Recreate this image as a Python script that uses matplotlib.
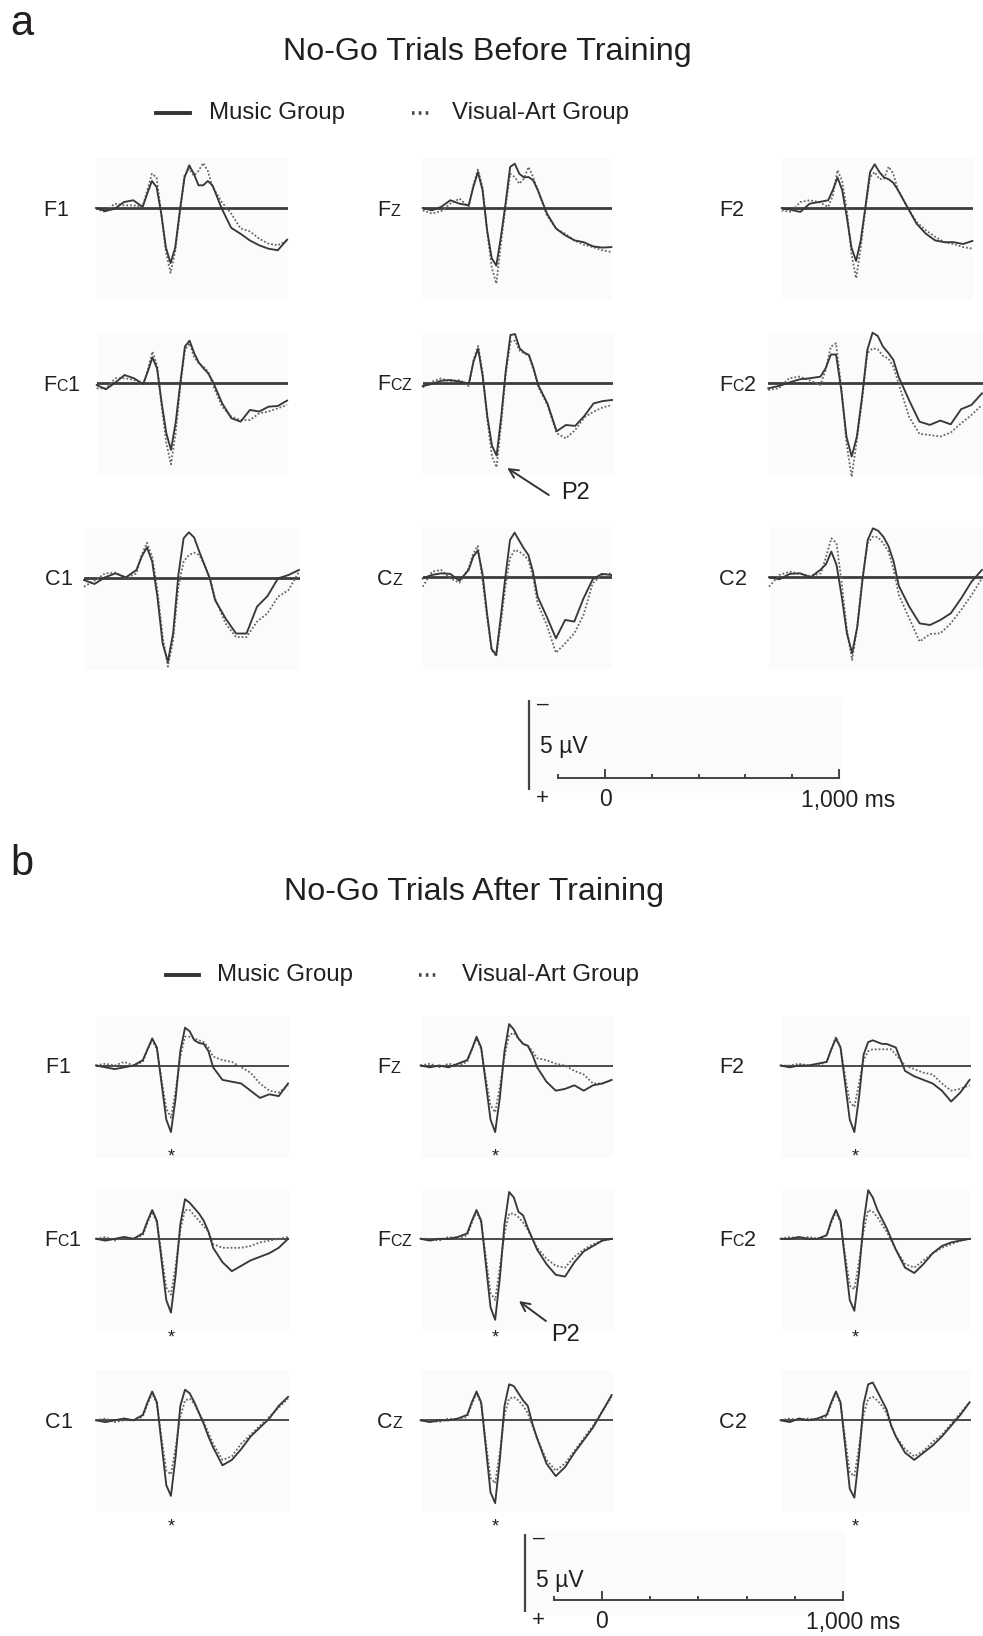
import matplotlib
matplotlib.use('Agg')
import matplotlib.pyplot as plt
from matplotlib.lines import Line2D

plt.rcParams['font.family'] = ['Liberation Sans', 'DejaVu Sans']

W, H = 983, 1636
fig = plt.figure(figsize=(W / 100, H / 100), dpi=100)
fig.patch.set_facecolor('white')

# ---------------- data ----------------
times = [-100, -60, -20, 20, 60, 100, 120, 140, 160, 180, 200, 220, 240, 260, 280,
         300, 320, 340, 360, 380, 400, 440, 480, 520, 560, 600, 640, 680, 720]
electrodes = ['F1', 'Fz', 'F2', 'Fc1', 'Fcz', 'Fc2', 'C1', 'Cz', 'C2']
scale_ticks_ms = [-200, 0, 200, 400, 600, 800, 1000]
group_names = ['Music Group', 'Visual-Art Group']

# Before training (µV, positive plotted downward)
pre_F1_music = [0.0, 0.17, 0.04, -0.33, -0.43, -0.06, -0.8, -1.5, -1.17, 0.31, 2.2, 3.06, 2.2, 0.13, -1.7, -2.37, -1.9, -1.26, -1.26, -1.5, -1.26, 0.04, 1.1, 1.43, 1.8, 2.07, 2.26, 2.35, 1.76]
pre_F1_visual = [0.04, 0.22, -0.24, -0.15, -0.15, -0.06, -0.98, -1.9, -1.7, 0.31, 2.44, 3.6, 2.4, 0.31, -1.8, -2.17, -1.8, -2.06, -2.5, -2.06, -1.17, -0.33, 0.31, 1.13, 1.3, 1.7, 1.98, 2.07, 1.8]
pre_Fz_music = [0.0, 0.13, -0.06, -0.43, -0.24, -0.15, -1.17, -2.0, -1.0, 1.24, 2.8, 3.2, 1.6, -0.24, -2.28, -2.46, -1.9, -1.7, -1.72, -1.54, -1.0, 0.31, 1.15, 1.52, 1.8, 1.9, 2.13, 2.2, 2.17]
pre_Fz_visual = [0.13, 0.31, 0.17, -0.24, -0.52, -0.06, -1.26, -2.13, -1.17, 1.33, 3.3, 4.2, 1.98, -0.06, -1.9, -1.72, -1.35, -1.63, -2.28, -1.72, -1.0, 0.41, 1.15, 1.43, 1.8, 2.04, 2.17, 2.35, 2.44]
pre_F2_music = [0.0, 0.1, 0.22, -0.24, -0.33, -0.43, -1.0, -1.7, -1.0, 0.5, 2.2, 2.94, 1.8, -0.06, -2.0, -2.43, -2.0, -1.7, -1.6, -1.4, -1.0, -0.06, 0.87, 1.43, 1.8, 1.9, 1.9, 2.0, 1.83]
pre_F2_visual = [0.13, 0.22, -0.33, -0.43, -0.33, -0.06, -0.7, -2.1, -1.5, 0.1, 2.54, 3.9, 2.2, 0.04, -1.72, -2.0, -1.6, -1.63, -2.3, -1.9, -1.0, -0.06, 0.78, 1.24, 1.6, 1.9, 2.0, 2.17, 2.26]
pre_Fc1_music = [0.1, 0.33, -0.04, -0.46, -0.28, 0.04, -0.65, -1.44, -0.83, 1.1, 2.78, 3.7, 2.2, 0.0, -2.04, -2.37, -1.67, -1.15, -0.83, -0.56, -0.1, 1.1, 1.94, 2.13, 1.48, 1.57, 1.3, 1.26, 0.96]
pre_Fc1_visual = [0.28, 0.28, -0.28, -0.28, -0.19, 0.09, -0.74, -1.76, -1.0, 1.3, 3.33, 4.5, 2.78, 0.19, -1.85, -2.22, -1.44, -1.1, -0.93, -0.65, 0.09, 1.3, 1.85, 2.04, 2.04, 1.67, 1.57, 1.39, 1.2]
pre_Fcz_music = [0.19, 0.07, -0.11, -0.15, -0.06, 0.04, -1.17, -1.9, -0.33, 1.89, 3.5, 4.05, 1.89, -0.7, -2.65, -2.7, -1.9, -1.67, -1.54, -0.8, 0.13, 1.15, 2.7, 2.35, 2.4, 1.85, 1.15, 1.02, 0.96]
pre_Fcz_visual = [0.26, -0.06, -0.24, -0.06, -0.15, 0.19, -1.26, -2.04, -0.52, 2.07, 4.1, 4.7, 2.26, -0.52, -2.28, -2.33, -1.78, -1.63, -1.48, -0.7, 0.22, 1.24, 2.81, 3.09, 2.63, 1.93, 1.61, 1.37, 1.24]
pre_Fc2_music = [0.28, 0.15, -0.04, -0.22, -0.28, -0.37, -0.83, -1.6, -1.6, 0.37, 2.96, 4.07, 2.96, 0.74, -1.85, -2.81, -2.63, -2.04, -1.7, -1.3, -0.37, 0.93, 2.13, 2.31, 2.07, 2.28, 1.44, 1.2, 0.56]
pre_Fc2_visual = [0.37, 0.28, -0.28, -0.37, -0.15, 0.09, -0.74, -2.04, -2.22, 0.19, 3.33, 5.2, 3.15, 0.93, -1.67, -1.94, -1.89, -1.52, -1.39, -0.93, 0.0, 1.85, 2.81, 2.87, 2.96, 2.74, 2.22, 1.76, 1.2]
pre_C1_music = [0.13, 0.35, -0.02, -0.24, -0.02, -0.43, -1.17, -1.69, -0.9, 1.06, 3.65, 4.67, 3.09, -0.15, -2.19, -2.52, -2.24, -1.44, -0.7, 0.04, 1.24, 2.26, 3.1, 3.1, 1.61, 1.02, 0.04, -0.15, -0.43]
pre_C1_visual = [0.5, 0.17, -0.24, -0.28, 0.04, -0.24, -1.26, -1.94, -1.17, 0.69, 3.28, 4.94, 3.46, 0.5, -0.89, -1.26, -1.39, -1.26, -0.7, 0.04, 1.15, 2.54, 3.3, 3.3, 2.44, 1.98, 1.06, 0.69, -0.33]
pre_Cz_music = [0.06, -0.13, -0.22, -0.19, 0.19, -0.41, -1.15, -1.5, -0.22, 2.0, 4.0, 4.3, 2.19, -0.04, -2.07, -2.48, -2.04, -1.61, -1.24, -0.31, 1.07, 2.19, 3.39, 2.37, 2.46, 1.17, 0.11, -0.19, -0.13]
pre_Cz_visual = [0.52, -0.31, -0.41, 0.06, 0.3, -0.5, -1.33, -1.75, 0.15, 2.19, 4.04, 4.4, 2.56, 0.52, -1.06, -1.52, -1.43, -1.24, -0.96, -0.04, 1.44, 2.65, 4.19, 3.67, 3.11, 2.09, 0.33, -0.13, -0.22]
pre_C2_music = [0.0, 0.11, -0.19, -0.22, 0.0, -0.44, -0.74, -1.43, -0.69, 1.07, 3.11, 4.22, 2.74, 0.15, -2.07, -2.72, -2.59, -2.26, -1.74, -0.87, 0.48, 1.63, 2.56, 2.65, 2.37, 2.0, 1.17, 0.24, -0.41]
pre_C2_visual = [0.52, -0.13, -0.31, -0.19, -0.07, -0.22, -1.15, -2.17, -1.89, 0.33, 2.93, 4.59, 2.74, -0.04, -1.89, -2.26, -2.22, -1.89, -1.43, -0.41, 0.98, 2.28, 3.57, 3.15, 3.11, 2.56, 1.81, 0.98, 0.06]

# After training
post_F1_music = [0.0, 0.1, 0.2, 0.1, 0.0, -0.3, -0.9, -1.5, -1.0, 1.0, 3.0, 3.7, 1.8, -0.8, -2.1, -1.9, -1.4, -1.25, -1.2, -0.8, 0.1, 0.8, 0.9, 1.0, 1.4, 1.8, 1.6, 1.7, 1.0]
post_F1_visual = [0.0, -0.1, 0.0, -0.2, 0.0, -0.2, -0.9, -1.4, -0.9, 0.8, 2.4, 2.9, 1.4, -0.5, -1.6, -1.6, -1.5, -1.4, -1.3, -1.0, -0.5, -0.3, -0.2, 0.1, 0.4, 1.0, 1.4, 1.5, 1.1]
post_Fz_music = [0.0, 0.1, 0.0, 0.1, -0.1, -0.3, -0.9, -1.6, -1.0, 1.0, 3.0, 3.7, 1.8, -0.8, -2.3, -2.0, -1.5, -1.2, -1.1, -0.6, 0.1, 0.9, 1.4, 1.3, 1.1, 1.4, 1.1, 1.0, 0.8]
post_Fz_visual = [0.0, -0.1, 0.1, -0.1, 0.0, -0.2, -0.9, -1.5, -0.9, 0.7, 2.2, 2.6, 1.2, -0.5, -1.7, -1.8, -1.5, -1.2, -1.1, -0.8, -0.4, -0.3, -0.1, 0.0, 0.3, 0.5, 1.0, 1.0, 0.8]
post_F2_music = [0.0, 0.1, 0.0, 0.0, -0.1, -0.2, -0.9, -1.5, -1.0, 1.0, 3.0, 3.7, 1.8, -0.6, -1.3, -1.4, -1.3, -1.2, -1.2, -1.1, -1.0, 0.3, 0.6, 0.8, 1.0, 1.4, 2.0, 1.5, 0.8]
post_F2_visual = [0.0, 0.0, -0.1, 0.0, 0.0, -0.2, -0.9, -1.6, -1.0, 0.6, 2.0, 2.3, 1.0, -0.3, -0.8, -0.9, -0.9, -0.9, -0.9, -0.9, -0.6, 0.0, 0.2, 0.4, 0.5, 1.0, 1.4, 1.3, 1.1]
post_Fc1_music = [0.0, 0.1, 0.0, -0.1, 0.0, -0.3, -1.0, -1.6, -1.0, 1.2, 3.4, 4.1, 2.0, -0.8, -2.2, -2.0, -1.7, -1.4, -1.0, -0.4, 0.5, 1.3, 1.8, 1.5, 1.2, 1.0, 0.8, 0.5, 0.0]
post_Fc1_visual = [0.0, -0.1, 0.1, -0.1, 0.0, -0.2, -0.9, -1.5, -0.9, 0.9, 2.7, 3.1, 1.5, -0.5, -1.6, -1.6, -1.3, -1.0, -0.7, -0.4, 0.3, 0.5, 0.5, 0.5, 0.4, 0.2, 0.1, 0.0, -0.1]
post_Fcz_music = [0.0, 0.1, 0.0, 0.0, -0.1, -0.3, -1.0, -1.6, -1.0, 1.4, 3.8, 4.5, 2.2, -0.8, -2.6, -2.3, -1.5, -1.3, -0.6, 0.0, 0.6, 1.4, 2.0, 2.1, 1.3, 0.7, 0.4, 0.1, 0.0]
post_Fcz_visual = [0.0, 0.0, 0.1, -0.1, 0.0, -0.2, -0.9, -1.5, -0.9, 1.0, 3.0, 3.4, 1.6, -0.3, -1.4, -1.4, -1.2, -0.9, -0.5, 0.0, 0.5, 1.1, 1.5, 1.6, 1.0, 0.6, 0.3, 0.1, 0.0]
post_Fc2_music = [0.0, 0.0, -0.1, 0.0, 0.0, -0.2, -1.0, -1.6, -1.0, 1.2, 3.4, 4.0, 1.9, -0.9, -2.7, -2.3, -1.6, -1.1, -0.6, 0.0, 0.6, 1.6, 1.9, 1.4, 0.8, 0.4, 0.2, 0.1, 0.0]
post_Fc2_visual = [0.0, -0.1, 0.0, -0.1, 0.0, -0.2, -0.9, -1.5, -0.9, 0.9, 2.6, 2.8, 1.3, -0.4, -1.6, -1.5, -1.2, -0.8, -0.4, 0.1, 0.6, 1.4, 1.6, 1.2, 0.8, 0.5, 0.3, 0.1, 0.0]
post_C1_music = [0.0, 0.1, 0.0, -0.1, 0.0, -0.3, -1.0, -1.6, -1.0, 1.3, 3.6, 4.2, 2.0, -0.8, -1.7, -1.5, -1.0, -0.4, 0.2, 0.9, 1.5, 2.5, 2.2, 1.6, 0.9, 0.4, -0.1, -0.8, -1.3]
post_C1_visual = [0.0, -0.1, 0.1, 0.0, 0.0, -0.2, -0.9, -1.5, -0.9, 1.0, 2.8, 3.0, 1.5, -0.2, -1.1, -1.2, -0.9, -0.4, 0.1, 0.7, 1.3, 2.2, 2.0, 1.3, 0.8, 0.3, -0.2, -0.7, -1.2]
post_Cz_music = [0.0, 0.1, 0.0, 0.0, -0.1, -0.3, -1.0, -1.6, -1.0, 1.5, 4.0, 4.6, 2.2, -0.8, -2.0, -1.9, -1.5, -1.1, -0.8, 0.2, 1.0, 2.4, 3.1, 2.6, 1.8, 1.1, 0.4, -0.5, -1.4]
post_Cz_visual = [0.0, 0.0, 0.1, -0.1, 0.0, -0.2, -0.9, -1.5, -0.9, 1.2, 3.2, 3.5, 1.8, -0.3, -1.2, -1.3, -1.1, -0.8, -0.4, 0.3, 1.0, 2.2, 2.8, 2.4, 1.7, 1.0, 0.3, -0.5, -1.3]
post_C2_music = [0.0, 0.1, -0.1, 0.0, -0.1, -0.3, -1.0, -1.6, -1.0, 1.4, 3.8, 4.3, 2.0, -0.9, -2.0, -2.1, -1.6, -1.1, -0.6, 0.3, 0.9, 1.8, 2.2, 1.8, 1.4, 0.9, 0.3, -0.3, -1.0]
post_C2_visual = [0.0, -0.1, 0.0, -0.1, 0.0, -0.2, -0.9, -1.5, -0.9, 1.0, 2.9, 3.1, 1.5, -0.3, -1.2, -1.3, -1.1, -0.8, -0.4, 0.3, 0.9, 1.6, 2.0, 1.7, 1.2, 0.8, 0.2, -0.4, -1.0]

pre_music = [pre_F1_music, pre_Fz_music, pre_F2_music, pre_Fc1_music, pre_Fcz_music,
             pre_Fc2_music, pre_C1_music, pre_Cz_music, pre_C2_music]
pre_visual = [pre_F1_visual, pre_Fz_visual, pre_F2_visual, pre_Fc1_visual, pre_Fcz_visual,
              pre_Fc2_visual, pre_C1_visual, pre_Cz_visual, pre_C2_visual]
post_music = [post_F1_music, post_Fz_music, post_F2_music, post_Fc1_music, post_Fcz_music,
              post_Fc2_music, post_C1_music, post_Cz_music, post_C2_music]
post_visual = [post_F1_visual, post_Fz_visual, post_F2_visual, post_Fc1_visual, post_Fcz_visual,
               post_Fc2_visual, post_C1_visual, post_Cz_visual, post_C2_visual]

# ---------------- style / layout ----------------
PX_PER_UV = 18.0
T0, T1 = -100, 724
TOP_PAD, BOT_PAD = 50, 92
TXT = '#231f20'
SOLID = '#383838'
DOT = '#666666'
BG = '#fbfbfb'

pre_boxes = [(96, 288, 208), (422.7, 612.3, 208), (781.7, 973.3, 208),
             (96.7, 288, 383.3), (422.7, 613, 382.7), (768.3, 983, 383.3),
             (84, 300, 577.7), (422.7, 612, 577.3), (769, 983, 577.3)]
post_boxes = [(96, 289, 1065.5), (420.6, 612.6, 1065.5), (780.6, 970.5, 1065.5),
              (96, 289, 1238.8), (420.6, 612.6, 1238.8), (780.6, 970.5, 1238.8),
              (96, 289, 1420.3), (420.6, 612.6, 1420.3), (780.6, 970.5, 1420.3)]
pre_label_x = [43, 377, 719, 43, 377, 719, 45, 377, 719]
post_label_x = [45, 377, 719, 44, 377, 719, 45, 377, 719]


def add_axes_px(x0, y0, x1, y1):
    return fig.add_axes([x0 / W, 1 - y1 / H, (x1 - x0) / W, (y1 - y0) / H])


def panel(box, music, visual, base_lw):
    x0, x1, yb = box
    ax = add_axes_px(x0, yb - TOP_PAD, x1, yb + BOT_PAD)
    ax.set_xlim(T0, T1)
    ax.set_ylim(BOT_PAD / PX_PER_UV, -TOP_PAD / PX_PER_UV)
    ax.set_facecolor(BG)
    for s in ax.spines.values():
        s.set_visible(False)
    ax.set_xticks([])
    ax.set_yticks([])
    ax.axhline(0, color='#3c3c3c', lw=base_lw, zorder=1)
    ax.plot(times, visual, color=DOT, lw=1.3, ls=(0, (1, 1.1)), clip_on=False, zorder=2)
    ax.plot(times, music, color=SOLID, lw=1.35, clip_on=False, zorder=3,
            solid_joinstyle='round')
    return ax


renderer = fig.canvas.get_renderer()


def electrode_label(x, y, name, size=15.5):
    cx = x
    for ch in name:
        if ch.islower():
            txt, sz = ch.upper(), size * 0.74
        else:
            txt, sz = ch, size
        t = fig.text(cx / W, 1 - y / H, txt, fontsize=sz, ha='left', va='baseline', color=TXT)
        cx += t.get_window_extent(renderer=renderer).width


def legend(y, x_line, x_music, x_dots, x_visual):
    fig.add_artist(Line2D([x_line[0] / W, x_line[1] / W], [1 - y / H, 1 - y / H],
                          color='#333333', lw=2.8, transform=fig.transFigure))
    fig.add_artist(Line2D([x_dots[0] / W, x_dots[1] / W], [1 - y / H, 1 - y / H],
                          color='#444444', lw=2.6, ls=(0, (0.7, 1.2)),
                          transform=fig.transFigure))
    fig.text(x_music / W, 1 - y / H, group_names[0], fontsize=17.3, ha='left',
             va='center', color=TXT)
    fig.text(x_visual / W, 1 - y / H, group_names[1], fontsize=17.3, ha='left',
             va='center', color=TXT)


def scale_bar(xv, ytop, ybot, yh, x0, px_ms, bg):
    bx0, by0, bx1, by1 = bg
    ax = add_axes_px(bx0, by0, bx1, by1)
    uv = (ybot - ytop) / 5.0
    ax.set_xlim((bx0 - x0) / px_ms, (bx1 - x0) / px_ms)
    ax.set_ylim((by1 - yh) / uv, (by0 - yh) / uv)
    ax.set_facecolor(BG)
    for s in ax.spines.values():
        s.set_visible(False)
    ax.set_xticks([])
    ax.set_yticks([])
    tv = (xv - x0) / px_ms
    ax.plot([tv, tv], [(ytop - yh) / uv, (ybot - yh) / uv], color='#444444', lw=1.6,
            clip_on=False, solid_capstyle='butt')
    ax.plot([scale_ticks_ms[0], scale_ticks_ms[-1]], [0, 0], color='#444444', lw=1.4,
            clip_on=False)
    for t in scale_ticks_ms:
        h = 8 if t in (0, scale_ticks_ms[-1]) else 3
        ax.plot([t, t], [0, -h / uv], color='#444444', lw=1.4, clip_on=False)
    ax.text((xv + 14 - x0) / px_ms, (ytop + 4 - yh) / uv, '\u2013', fontsize=15,
            ha='center', va='center', color=TXT)
    ax.text((xv + 11 - x0) / px_ms, (ytop + 46 - yh) / uv, '5 \u00b5V', fontsize=16.5,
            ha='left', va='center', color=TXT)
    ax.text((xv + 13 - x0) / px_ms, (ybot + 9 - yh) / uv, '+', fontsize=16,
            ha='center', va='center', color=TXT)
    ax.text(0, 22 / uv, '0', fontsize=16.5, ha='center', va='center', color=TXT)
    ax.text(scale_ticks_ms[-1] + 40, 22 / uv, '1,000 ms', fontsize=16.5, ha='center',
            va='center', color=TXT)


# ---------------- part a ----------------
fig.text(10 / W, 1 - 35 / H, 'a', fontsize=30, ha='left', va='baseline', color=TXT)
fig.text(487 / W, 1 - 60 / H, 'No-Go Trials Before Training', fontsize=23.2,
         ha='center', va='baseline', color=TXT)
legend(113, (156, 190), 209, (412, 432), 452)

pre_axes = []
for i, name in enumerate(electrodes):
    ax = panel(pre_boxes[i], pre_music[i], pre_visual[i], 2.0)
    pre_axes.append(ax)
    electrode_label(pre_label_x[i], pre_boxes[i][2] + 7.5, name)

pre_axes[4].annotate('', xy=(266, 4.74), xytext=(446, 6.24),
                     arrowprops=dict(arrowstyle='->', color='#333333', lw=1.4,
                                     shrinkA=0, shrinkB=0, mutation_scale=16),
                     annotation_clip=False)
pre_axes[4].text(562, 6.12, 'P2', fontsize=17, ha='center', va='center', color=TXT)

scale_bar(529, 700, 790, 778, 605, 0.234, (530, 697, 843, 793))

# ---------------- part b ----------------
fig.text(10 / W, 1 - 875 / H, 'b', fontsize=30, ha='left', va='baseline', color=TXT)
fig.text(474 / W, 1 - 900 / H, 'No-Go Trials After Training', fontsize=23.2,
         ha='center', va='baseline', color=TXT)
legend(975, (166, 199), 217, (419, 438), 462)

star_v = [5.1, 5.5, 5.9]
post_axes = []
for i, name in enumerate(electrodes):
    ax = panel(post_boxes[i], post_music[i], post_visual[i], 1.3)
    post_axes.append(ax)
    electrode_label(post_label_x[i], post_boxes[i][2] + 7.5, name)
    ax.text(222, star_v[i // 3], '*', fontsize=13, ha='center', va='center',
            color=TXT, clip_on=False)

post_axes[4].annotate('', xy=(322, 3.46), xytext=(438, 4.57),
                      arrowprops=dict(arrowstyle='->', color='#333333', lw=1.4,
                                      shrinkA=0, shrinkB=0, mutation_scale=16),
                      annotation_clip=False)
post_axes[4].text(520, 5.35, 'P2', fontsize=17, ha='center', va='center', color=TXT)

scale_bar(525, 1534, 1612, 1600, 602, 0.241, (526, 1531, 845, 1615))

fig.savefig('out.png', dpi=100, facecolor='white')
